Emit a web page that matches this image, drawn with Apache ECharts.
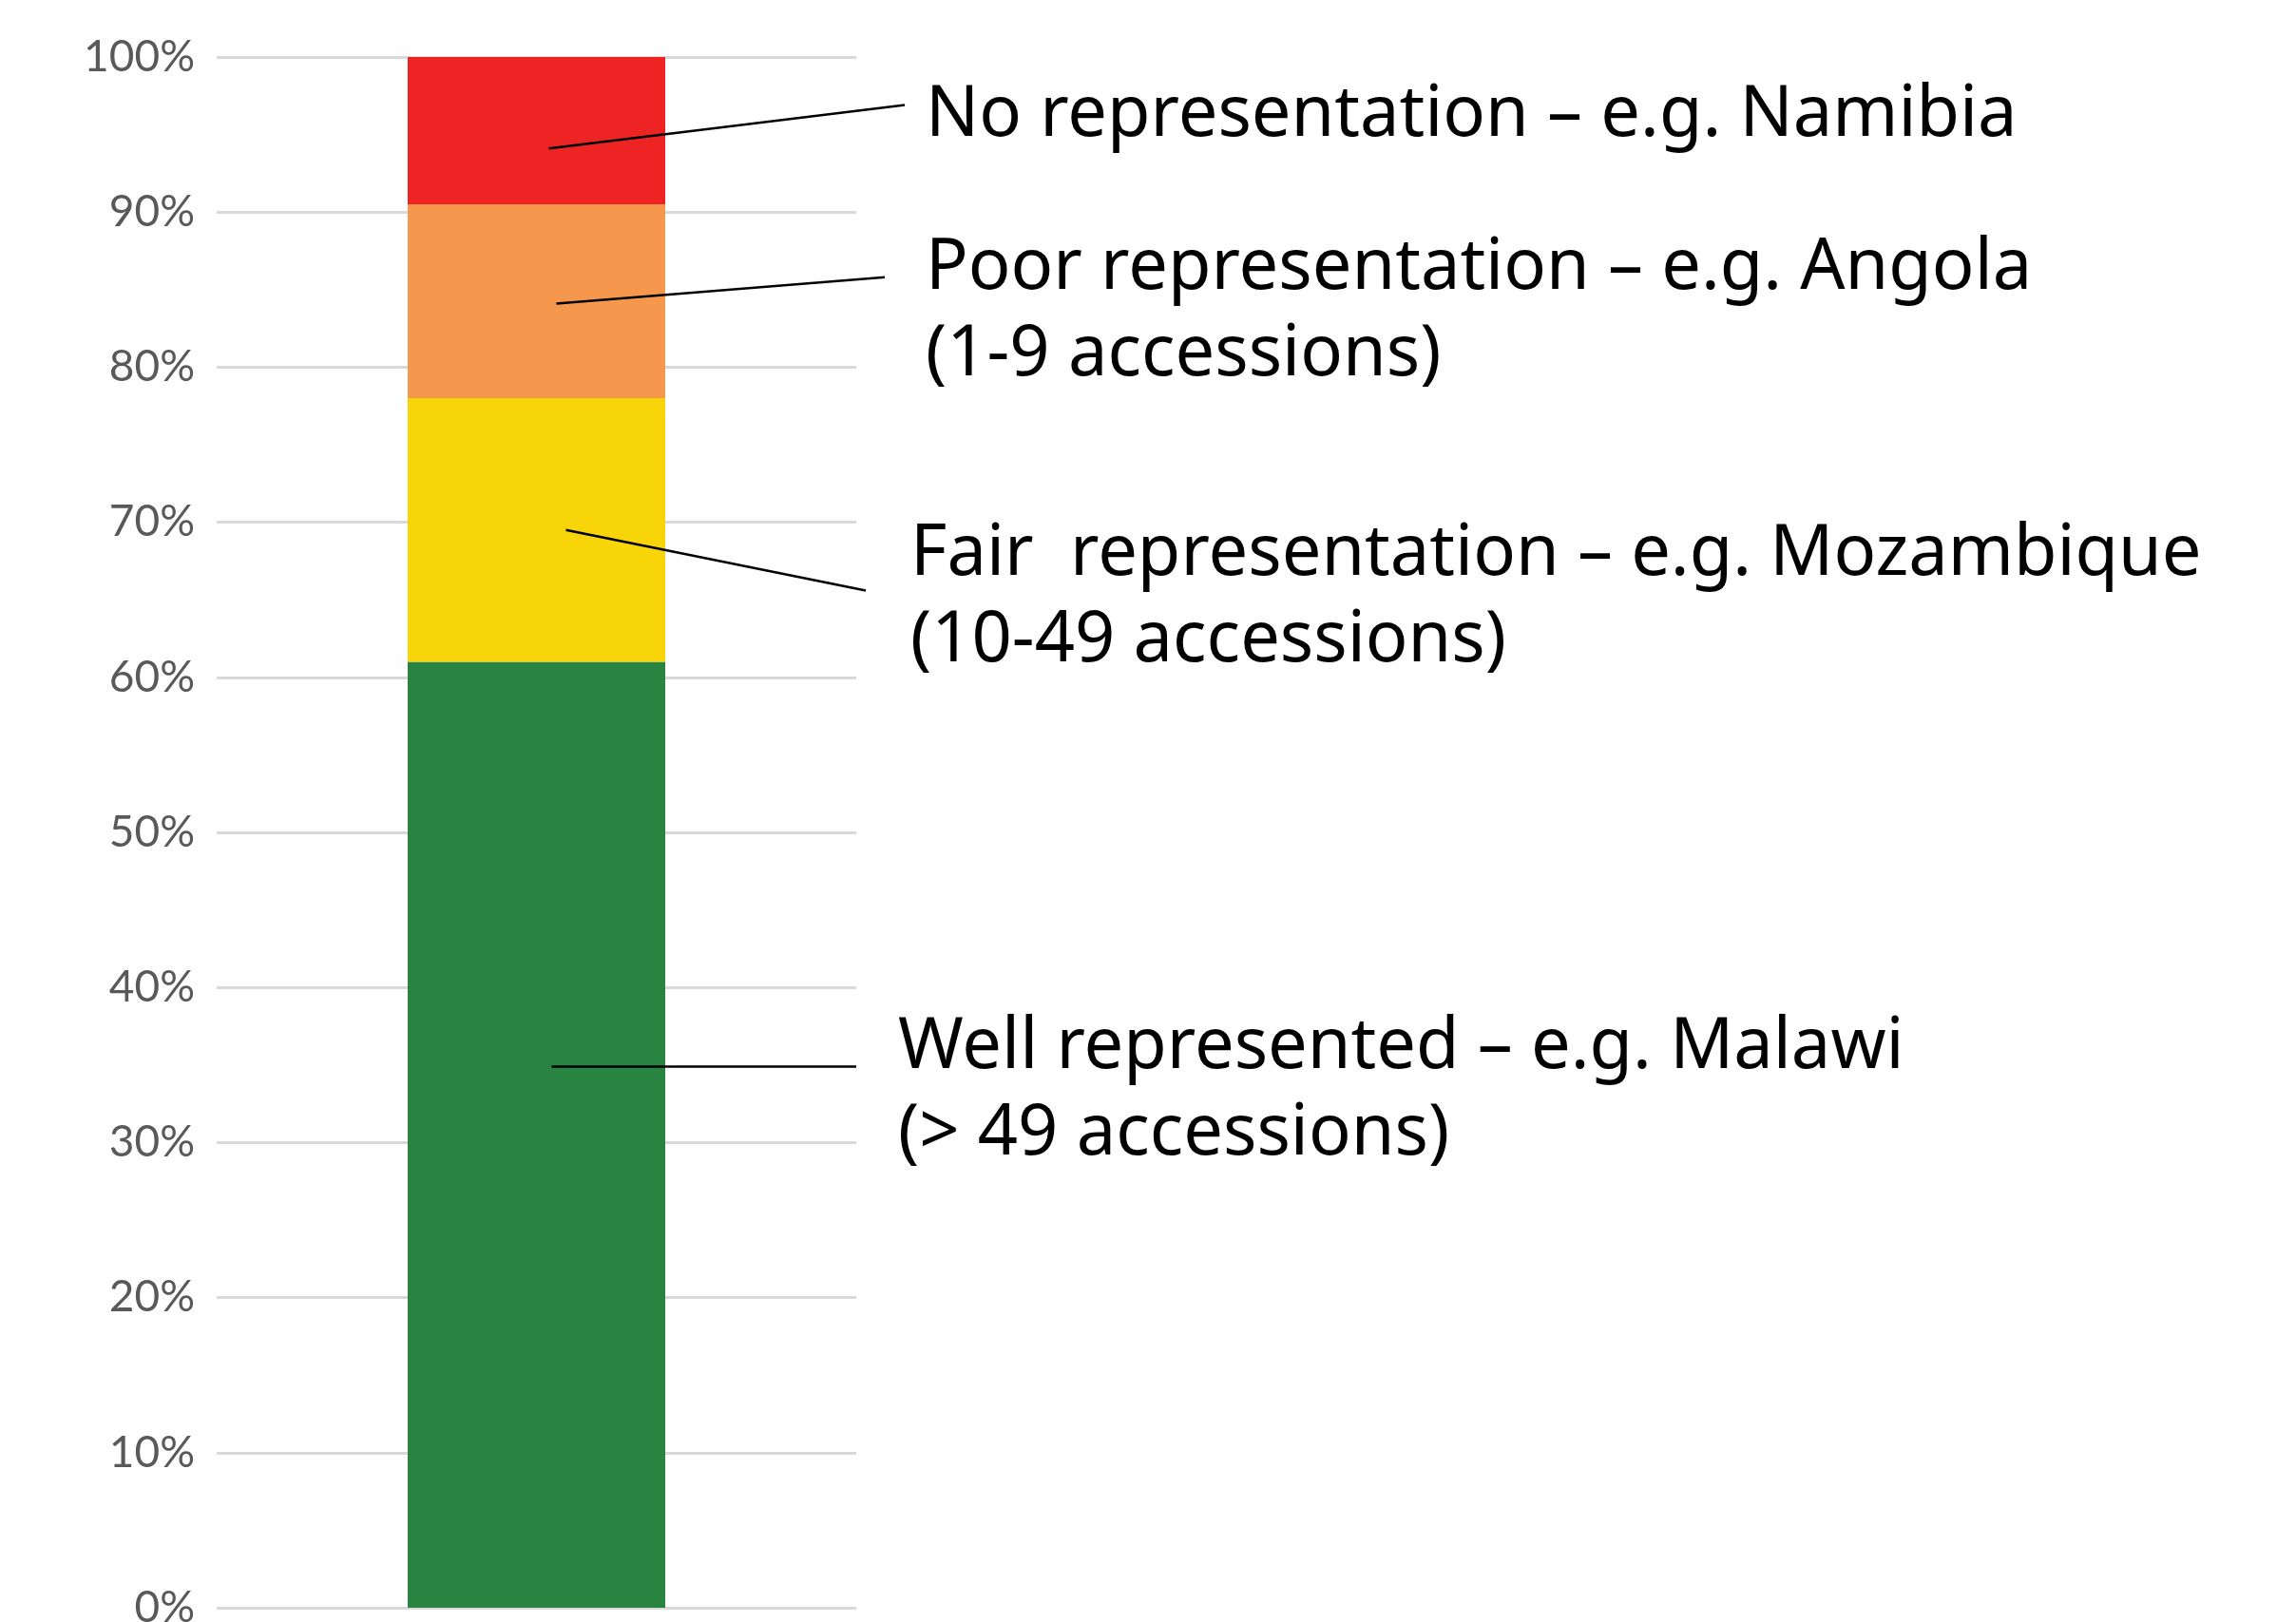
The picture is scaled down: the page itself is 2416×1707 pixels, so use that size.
<!DOCTYPE html>
<html>
<head>
<meta charset="utf-8">
<script src="https://cdn.jsdelivr.net/npm/echarts@6/dist/echarts.min.js"></script>
<style>
html,body{margin:0;padding:0;background:#fff;overflow:hidden;}
#chart{width:2416px;height:1707px;}
</style>
</head>
<body>
<div id="chart"></div>
<script>
// ---- data ----
const categories = ['Africa'];
const seriesNames = ['Well represented', 'Fair representation', 'Poor representation', 'No representation'];
const wellValues = [61.0];
const fairValues = [17.0];
const poorValues = [12.5];
const noneValues = [9.5];
const yTicks = [0, 10, 20, 30, 40, 50, 60, 70, 80, 90, 100];

// annotations: leader start value (inside bar), leader end value, text lines
const annoText = [
  'No representation – e.g. Namibia',
  'Poor representation – e.g. Angola\n(1-9 accessions)',
  'Fair  representation – e.g. Mozambique\n(10-49 accessions)',
  'Well represented – e.g. Malawi\n(> 49 accessions)'
];
const annoStartValue = [94.1, 84.1, 69.5, 34.9];
const annoEndValue = [96.9, 85.8, 65.6, 34.9];

// ---- styling / layout ----
const colors = ['#288440', '#f7d508', '#f5984d', '#ee2324'];
const annoStartDx = [13, 21, 31, 16];
const annoEndX = [952, 931, 911, 901];
const annoTextX = [974, 974, 958, 945];
const annoTextCenterY = [122, 283, 584, 1103];
const FONT = '"Noto Sans", "Open Sans", sans-serif';
const AXIS_FONT = 'Lato, sans-serif';
const LINE_H = 91;

const chart = echarts.init(document.getElementById('chart'), null, {renderer: 'canvas'});
const values = [wellValues, fairValues, poorValues, noneValues];
const option = {
  animation: false,
  backgroundColor: '#ffffff',
  grid: {left: 228, right: 2416 - 901, top: 60, bottom: 15, containLabel: false, outerBoundsMode: 'none'},
  xAxis: {
    type: 'category', data: categories,
    axisLine: {show: false}, axisTick: {show: false}, axisLabel: {show: false}
  },
  yAxis: {
    type: 'value', min: 0, max: 100, interval: 10,
    axisLine: {show: false}, axisTick: {show: false},
    axisLabel: {
      formatter: function (v) { return yTicks.indexOf(v) >= 0 ? v + '%' : ''; },
      color: '#595959', fontSize: 46, fontFamily: AXIS_FONT, margin: 23,
      padding: [0, 0, 14, 0]
    },
    splitLine: {lineStyle: {color: '#d9d9d9', width: 3}}
  },
  series: values.map((arr, i) => ({
    name: seriesNames[i], type: 'bar', stack: 'total', data: arr,
    barWidth: 271, itemStyle: {color: colors[i]}
  }))
};
chart.setOption(option);

const graphics = [];
annoText.forEach((t, i) => {
  const p0 = chart.convertToPixel({gridIndex: 0}, [0, annoStartValue[i]]);
  const p1 = chart.convertToPixel({gridIndex: 0}, [0, annoEndValue[i]]);
  graphics.push({
    type: 'line', z: 100,
    shape: {x1: p0[0] + annoStartDx[i], y1: p0[1], x2: annoEndX[i], y2: p1[1]},
    style: {stroke: '#000', lineWidth: 2.5}
  });
  graphics.push({
    type: 'text', z: 100,
    x: annoTextX[i], y: annoTextCenterY[i] - LINE_H / 2,
    style: {
      text: t, fill: '#000', font: '74px ' + FONT,
      lineHeight: LINE_H, verticalAlign: 'top', align: 'left'
    }
  });
});
chart.setOption({graphic: graphics});
</script>
</body>
</html>
